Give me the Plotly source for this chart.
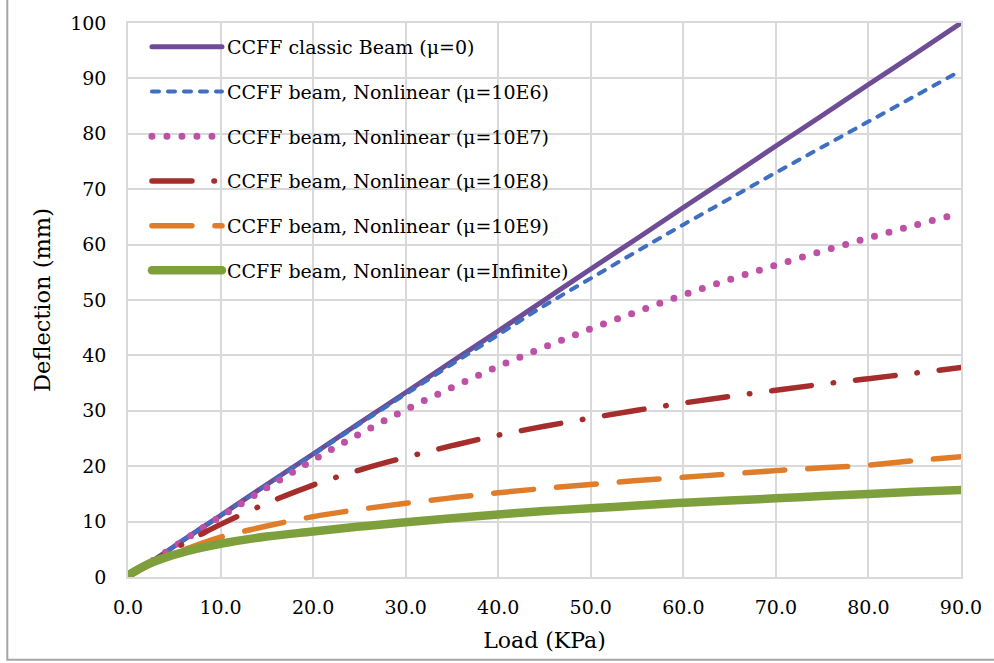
import plotly.graph_objects as go

load = [0, 2, 4, 6, 8, 10, 15, 20, 25, 30, 35, 40, 45, 50, 55, 60, 65, 70, 75, 80, 85, 90]

classic = [0, 2.2, 4.4, 6.7, 8.9, 11.1, 16.7, 22.2, 27.8, 33.3, 38.9, 44.4, 50.0, 55.6, 61.1, 66.7, 72.2, 77.8, 83.3, 88.9, 94.4, 100.0]
mu_1e6 = [0, 2.2, 4.4, 6.7, 8.9, 11.1, 16.6, 22.1, 27.6, 33.0, 38.4, 43.7, 49.0, 53.9, 58.8, 63.6, 68.3, 73.0, 77.6, 82.2, 86.8, 91.4]
mu_1e7 = [0, 2.2, 4.4, 6.6, 8.8, 10.9, 16.1, 21.1, 25.8, 30.2, 34.2, 38.0, 41.5, 44.8, 47.9, 50.9, 53.7, 56.3, 58.8, 61.2, 63.5, 65.7]
mu_1e8 = [0, 2.1, 4.1, 6.0, 7.8, 9.5, 13.3, 16.6, 19.3, 21.6, 23.7, 25.6, 27.2, 28.7, 30.1, 31.4, 32.6, 33.7, 34.8, 35.8, 36.8, 37.8]
mu_1e9 = [0, 1.9, 3.5, 4.9, 6.1, 7.2, 9.2, 10.9, 12.2, 13.3, 14.3, 15.2, 16.0, 16.7, 17.4, 18.0, 18.6, 19.2, 19.7, 20.2, 21.0, 21.7]
mu_inf = [0.3, 2.2, 3.5, 4.5, 5.3, 6.0, 7.3, 8.2, 9.1, 9.9, 10.6, 11.3, 11.9, 12.4, 12.9, 13.4, 13.8, 14.2, 14.6, 15.0, 15.4, 15.7]

names = [
    "CCFF classic Beam (μ=0)",
    "CCFF beam, Nonlinear (μ=10E6)",
    "CCFF beam, Nonlinear (μ=10E7)",
    "CCFF beam, Nonlinear (μ=10E8)",
    "CCFF beam, Nonlinear (μ=10E9)",
    "CCFF beam, Nonlinear (μ=Infinite)",
]
series = [classic, mu_1e6, mu_1e7, mu_1e8, mu_1e9, mu_inf]
colors = ["#6E4C96", "#3F6FC0", "#BE50A5", "#A52D2B", "#E07D2A", "#7EA03C"]
widths = [5, 4, 7, 5.5, 5.5, 8.5]
dashes = ["solid", "7px,9px", "0px,15px", "40px,22px,0.5px,22px", "40px,23px", "solid"]

FONT = "DejaVu Serif"

fig = go.Figure()
for i, (nm, ys) in enumerate(zip(names, series)):
    fig.add_trace(go.Scatter(
        x=load, y=ys, name=nm, mode="lines", line_shape="spline",
        line=dict(color=colors[i], width=widths[i], dash=dashes[i]),
        legendgroup=f"g{i}",
    ))

W, H = 994, 663
L, R, T, B = 128, 31, 22, 86
pw, ph = W - L - R, H - T - B

def px_x(p):
    return (p - L) / pw

def px_y(p):
    return (H - B - p) / ph

fig.update_layout(
    width=W, height=H,
    margin=dict(l=L, r=R, t=T, b=B),
    paper_bgcolor="white", plot_bgcolor="white",
    font=dict(family=FONT, size=19, color="#000000"),
    showlegend=True,
    legend=dict(
        x=px_x(147), y=px_y(27), xanchor="left", yanchor="top",
        bgcolor="rgba(0,0,0,0)", font=dict(family=FONT, size=19),
        itemwidth=70, tracegroupgap=17,
    ),
    xaxis=dict(
        range=[0, 90], dtick=10, tick0=0, tickformat=".1f",
        showgrid=True, gridcolor="#d9d9d9", gridwidth=1.5,
        showline=True, linecolor="#d9d9d9", linewidth=1.5, mirror=True,
        ticks="", zeroline=False, ticklabelstandoff=12,
        title=dict(text="Load (KPa)", font=dict(family=FONT, size=22), standoff=16),
        tickfont=dict(family=FONT, size=19),
    ),
    yaxis=dict(
        range=[0, 100], dtick=10, tick0=0,
        showgrid=True, gridcolor="#d9d9d9", gridwidth=1.5,
        showline=True, linecolor="#d9d9d9", linewidth=1.5, mirror=True,
        ticks="", zeroline=False, ticklabelstandoff=16,
        title=dict(text="Deflection (mm)", font=dict(family=FONT, size=22.5), standoff=13),
        tickfont=dict(family=FONT, size=19),
    ),
    shapes=[dict(
        type="rect", xref="paper", yref="paper",
        x0=px_x(7), x1=px_x(1010), y0=px_y(660), y1=px_y(-10),
        line=dict(color="#a6a6a6", width=2), fillcolor="rgba(0,0,0,0)", layer="below",
    )],
)

post = """
document.body.style.margin = '0';
document.body.style.padding = '0';
var gd = document.getElementById('{plot_id}');
function caps(){
  gd.querySelectorAll('path.js-line, .legendlines path').forEach(function(p){
    p.style.strokeLinecap = 'round';
  });
}
caps();
gd.on('plotly_afterplot', caps);
"""

fig.write_html("out.html", post_script=post, config={"displayModeBar": False})
